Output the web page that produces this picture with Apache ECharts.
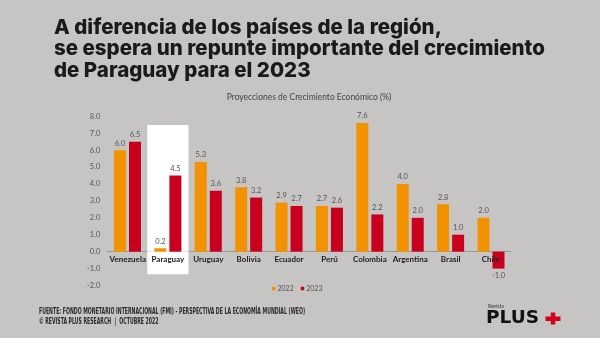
<!DOCTYPE html>
<html><head><meta charset="utf-8">
<script src="https://cdn.jsdelivr.net/npm/echarts@6/dist/echarts.min.js"></script>
<style>html,body{margin:0;padding:0;background:#c6c5c4;}#c{width:600px;height:338px;}</style>
</head><body><div id="c"></div>
<script>
const categories = ['Venezuela','Paraguay','Uruguay','Bolivia','Ecuador','Perú','Colombia','Argentina','Brasil','Chile'];
const values2022 = [6.0, 0.2, 5.3, 3.8, 2.9, 2.7, 7.6, 4.0, 2.8, 2.0];
const values2023 = [6.5, 4.5, 3.6, 3.2, 2.7, 2.6, 2.2, 2.0, 1.0, -1.0];
const highlightTop = [null, 7.48, null, null, null, null, null, null, null, null];
const highlightBottom = [null, -1.33, null, null, null, null, null, null, null, null];
const yTicks = {min: -2, max: 8, interval: 1};

const titleText = 'A diferencia de los países de la región,\nse espera un repunte importante del crecimiento\nde Paraguay para el 2023';
const subtitleText = 'Proyecciones de Crecimiento Económico (%)';
const source1 = 'FUENTE: FONDO MONETARIO INTERNACIONAL (FMI) - PERSPECTIVA DE LA ECONOMÍA MUNDIAL (WEO)';
const source2 = '© REVISTA PLUS RESEARCH  |  OCTUBRE 2022';

function measure(text, font){
  const cv = document.createElement('canvas').getContext('2d');
  cv.font = font; return cv.measureText(text).width;
}
const footFont = 'bold 9.5px "Liberation Sans Narrow", "DejaVu Sans Condensed", sans-serif';
const s1 = 266 / measure(source1, footFont);
const titleFont = '800 20px Inter';
const tScale = 490 / measure('se espera un repunte importante del crecimiento', titleFont);
const titleSize = Math.round(20 * tScale * 10) / 10;

const orange = '#f39200', red = '#c8001e';
const toData = arr => arr.map(v => v < 0 ? {value: v, label: {position: 'bottom'}} : v);
const valLabel = {show: true, position: 'top', distance: 3, color: '#555', fontSize: 7.5, fontFamily: 'Lato', formatter: p => Number(p.value).toFixed(1)};
const zeroBase = categories.map(() => 0);

const chart = echarts.init(document.getElementById('c'), null, {renderer: 'canvas'});
chart.setOption({
  backgroundColor: '#c6c5c4',
  animation: false,
  title: [
    {text: titleText, left: 49, top: 12, padding: 5, textStyle: {fontFamily: 'Inter', fontWeight: 800, fontSize: titleSize, lineHeight: 21.5, color: '#1b1a1a'}},
    {text: subtitleText, left: 304, top: 88, textAlign: 'center', textStyle: {fontFamily: 'Lato', fontWeight: 'normal', fontSize: 8.5, color: '#444'}}
  ],
  legend: {
    data: ['2022', '2023'], left: 267, top: 280, icon: 'rect', itemWidth: 3.5, itemHeight: 3.5, itemGap: 7,
    textStyle: {fontSize: 7, color: '#555', fontFamily: 'Lato', padding: [0, 0, 0, -3]}
  },
  grid: {left: 107.3, right: 88.8, top: 116.3, bottom: 52.5},
  xAxis: [
    {type: 'category', data: categories, position: 'bottom',
     axisLine: {show: false, onZero: false}, axisTick: {show: false}, axisLabel: {show: false}},
    {type: 'category', data: categories, position: 'bottom', z: 0,
     axisLine: {show: true, onZero: true, lineStyle: {color: '#9a9a9a', width: 1}}, axisTick: {show: false}, axisLabel: {show: false}}
  ],
  yAxis: {type: 'value', min: yTicks.min, max: yTicks.max, interval: yTicks.interval,
    axisLine: {show: false}, axisTick: {show: false}, splitLine: {show: false},
    axisLabel: {color: '#555', fontSize: 7.5, fontFamily: 'Lato', margin: 7, formatter: v => v.toFixed(1)}},
  series: [
    {name: 'hl', type: 'bar', xAxisIndex: 1, stack: 'hl', data: highlightTop, barWidth: '102%', barGap: '-100%', silent: true, z: 1,
     itemStyle: {color: '#ffffff'}},
    {name: 'hl2', type: 'bar', xAxisIndex: 1, stack: 'hl', data: highlightBottom, barWidth: '102%', barGap: '-100%', silent: true, z: 1,
     itemStyle: {color: '#ffffff'}},
    {name: 'cats', type: 'bar', xAxisIndex: 1, data: zeroBase, barWidth: '102%', barGap: '-100%', silent: true, z: 5,
     itemStyle: {color: 'rgba(0,0,0,0)'},
     label: {show: true, position: 'bottom', distance: 4, formatter: p => p.name, color: '#222', fontWeight: 'bold', fontSize: 8, fontFamily: 'Lato'}},
    {name: '2022', type: 'bar', data: toData(values2022), barWidth: 12, barGap: '25%', z: 2, itemStyle: {color: orange}, label: valLabel},
    {name: '2023', type: 'bar', data: toData(values2023), barWidth: 12, barGap: '25%', z: 2, itemStyle: {color: red}, label: valLabel}
  ],
  graphic: [
    {type: 'text', x: 39, y: 306.5, scaleX: s1, style: {text: source1, font: footFont, fill: '#2a2a2a'}},
    {type: 'text', x: 39, y: 316.5, scaleX: s1, style: {text: source2, font: footFont, fill: '#2a2a2a'}},
    {type: 'text', x: 488, y: 304, style: {text: 'Revista', font: '5px Lato', fill: '#333'}},
    {type: 'text', x: 486, y: 309, style: {text: 'PLUS', font: 'bold 18.5px "DejaVu Sans"', fill: '#111'}},
    {type: 'rect', shape: {x: 545.5, y: 316.5, width: 15, height: 4.5}, style: {fill: '#d0021b'}},
    {type: 'rect', shape: {x: 550.8, y: 312.5, width: 4.5, height: 12}, style: {fill: '#d0021b'}}
  ]
});
</script></body></html>
